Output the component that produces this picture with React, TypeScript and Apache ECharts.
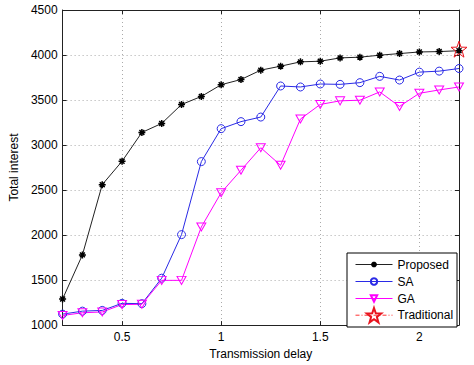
import React, { useEffect, useRef } from "react";
import * as echarts from "echarts";

const delays = [0.2, 0.3, 0.4, 0.5, 0.6, 0.7, 0.8, 0.9, 1.0, 1.1, 1.2, 1.3, 1.4, 1.5, 1.6, 1.7, 1.8, 1.9, 2.0, 2.1, 2.2];
const proposed = [1290, 1780, 2560, 2820, 3140, 3240, 3450, 3540, 3670, 3728, 3832, 3876, 3924, 3931, 3968, 3976, 3998, 4016, 4034, 4038, 4048];
const sa = [1122, 1155, 1163, 1242, 1238, 1521, 2005, 2816, 3182, 3260, 3311, 3656, 3645, 3678, 3674, 3693, 3763, 3722, 3810, 3821, 3850];
const ga = [1107, 1137, 1146, 1228, 1231, 1497, 1497, 2090, 2471, 2720, 2970, 2775, 3289, 3451, 3491, 3498, 3590, 3429, 3575, 3612, 3645];
const traditionalX = [2.2];
const traditionalY = [4065];
const xTickLabels = [0.5, 1, 1.5, 2];
const yTicks = { min: 1000, max: 4500, step: 500 };
const seriesNames = ["Proposed", "SA", "GA", "Traditional"];

const ASTERISK = "path://M0,5 L10,5 M5,0 L5,10 M1.5,1.5 L8.5,8.5 M8.5,1.5 L1.5,8.5";
const TRI_DOWN = "path://M0,0 L10,0 L5,9 Z";
const STAR = "path://M10,0 L12.35,6.76 L19.51,6.91 L13.8,11.24 L15.88,18.09 L10,14 L4.12,18.09 L6.2,11.24 L0.49,6.91 L7.65,6.76 Z";

const FONT = "'Liberation Sans', Arial, sans-serif";

export default function App() {
  const ref = useRef<HTMLDivElement>(null);
  useEffect(() => {
    if (!ref.current) return;
    const chart = echarts.init(ref.current, undefined, { renderer: "svg" });
    const pairs = (ys: number[]) => ys.map((y, i) => [delays[i], y]);
    const xBase = {
      type: "value",
      min: 0.2,
      max: 2.2,
      splitNumber: 4,
      axisLine: { show: true, lineStyle: { color: "#222", width: 1 } },
      axisTick: { show: true, inside: true, length: 4, lineStyle: { color: "#222" } },
    };
    const yBase = {
      type: "value",
      min: yTicks.min,
      max: yTicks.max,
      interval: yTicks.step,
      axisLine: { show: true, lineStyle: { color: "#222", width: 1 } },
      axisTick: { show: true, inside: true, length: 4, lineStyle: { color: "#222" } },
    };
    const legendCenters = [264.5, 281.5, 298.5, 316];
    const legendSizes = [7, 8, 8, 18];
    const legends = seriesNames.map((n, i) => ({
      data: [n],
      orient: "vertical",
      left: 355,
      top: legendCenters[i] - Math.max(legendSizes[i], 14) / 2,
      itemWidth: 37,
      itemHeight: legendSizes[i],
      padding: 0,
      z: 5,
      lineStyle: { width: 1 },
      textStyle: { fontFamily: FONT, fontSize: 12, color: "#000", lineHeight: 14 },
    }));
    chart.setOption({
      animation: false,
      backgroundColor: "#fff",
      textStyle: { fontFamily: FONT },
      grid: { left: 54, top: 10, right: 15, bottom: 37, containLabel: false },
      graphic: [
        {
          type: "rect",
          z: 4,
          shape: { x: 347, y: 253, width: 110, height: 74 },
          style: { fill: "#fff", stroke: "#000", lineWidth: 1 },
        },
      ],
      legend: legends,
      xAxis: [
        {
          ...xBase,
          position: "bottom",
          name: "Transmission delay",
          nameLocation: "middle",
          nameGap: 19,
          nameTextStyle: { fontFamily: FONT, fontSize: 12, color: "#000" },
          axisLabel: {
            fontFamily: FONT,
            fontSize: 12,
            color: "#000",
            margin: 6,
            formatter: (v: number) => (xTickLabels.some((t) => Math.abs(t - v) < 1e-6) ? String(Math.round(v * 10) / 10) : ""),
          },
          splitLine: { show: true, lineStyle: { color: "#aaa", type: [1, 3], width: 1 } },
        },
        {
          ...xBase,
          position: "top",
          axisLabel: { show: false },
          splitLine: { show: false },
        },
      ],
      yAxis: [
        {
          ...yBase,
          position: "left",
          name: "Total interest",
          nameLocation: "middle",
          nameGap: 41,
          nameTextStyle: { fontFamily: FONT, fontSize: 12, color: "#000" },
          axisLabel: { fontFamily: FONT, fontSize: 12, color: "#000", margin: 5, formatter: (v: number) => String(v) },
          splitLine: { show: true, lineStyle: { color: "#aaa", type: [1, 3], width: 1 } },
        },
        {
          ...yBase,
          position: "right",
          axisLabel: { show: false },
          splitLine: { show: false },
        },
      ],
      series: [
        {
          name: seriesNames[0],
          type: "line",
          data: pairs(proposed),
          symbol: ASTERISK,
          symbolSize: 7,
          clip: false,
          lineStyle: { color: "#222", width: 1 },
          itemStyle: { color: "#000", borderColor: "#000", borderWidth: 1.5 },
        },
        {
          name: seriesNames[1],
          type: "line",
          data: pairs(sa),
          symbol: "circle",
          symbolSize: 8,
          clip: false,
          lineStyle: { color: "#2a2ae6", width: 1 },
          itemStyle: { color: "rgba(255,255,255,0)", borderColor: "#2a2ae6", borderWidth: 1 },
        },
        {
          name: seriesNames[2],
          type: "line",
          data: pairs(ga),
          symbol: TRI_DOWN,
          symbolSize: [9, 8],
          clip: false,
          lineStyle: { color: "#ff00ff", width: 1 },
          itemStyle: { color: "rgba(255,255,255,0)", borderColor: "#ff00ff", borderWidth: 1 },
        },
        {
          name: seriesNames[3],
          type: "line",
          data: traditionalY.map((y, i) => [traditionalX[i], y]),
          symbol: STAR,
          symbolSize: 16,
          clip: false,
          lineStyle: { color: "#ff3030", width: 1, type: [4, 2, 1, 2] },
          itemStyle: { color: "rgba(255,255,255,0)", borderColor: "#e8141e", borderWidth: 1 },
        },
      ],
    });
    return () => chart.dispose();
  }, []);
  return <div ref={ref} style={{ position: "fixed", left: 0, top: 0, width: 474, height: 365 }} />;
}
